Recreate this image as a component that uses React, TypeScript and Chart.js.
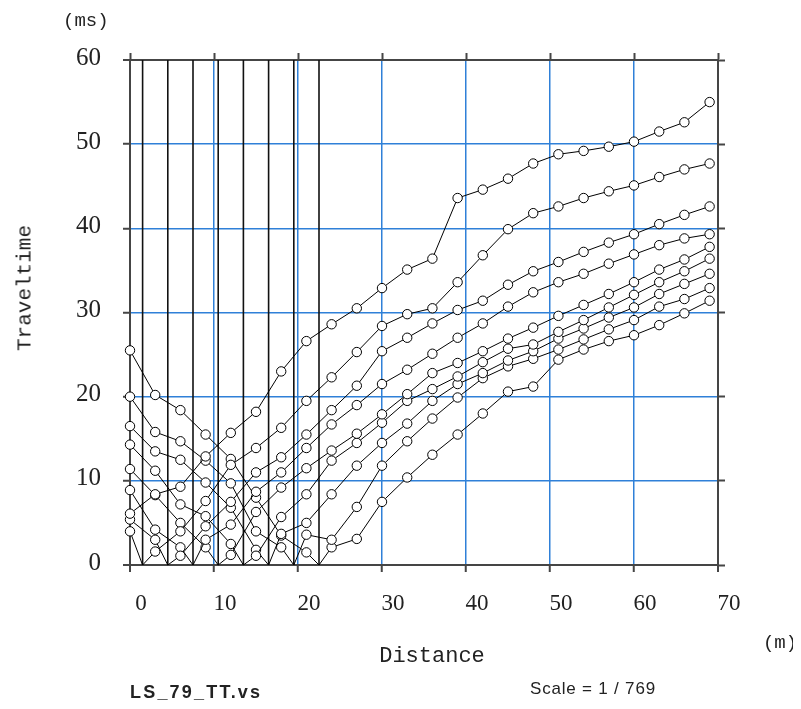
import React, { useEffect, useRef } from "react";
import { Chart, registerables } from "chart.js";

Chart.register(...registerables);

// Receiver positions (m)
const distances = [0, 3, 6, 9, 12, 15, 18, 21, 24, 27, 30, 33, 36, 39, 42, 45, 48, 51, 54, 57, 60, 63, 66, 69];

// Shot positions (m), drawn as vertical lines
const shotPositions = [1.5, 4.5, 7.5, 10.5, 13.5, 16.5, 19.5, 22.5];

// Travel times (ms) per shot record
const timesA = [6.1, 8.4, 9.3, 12.9, 15.7, 18.2, 23.0, 26.6, 28.6, 30.5, 32.9, 35.1, 36.4, 43.6, 44.6, 45.9, 47.7, 48.8, 49.2, 49.7, 50.3, 51.5, 52.6, 55.0];
const timesB = [4.0, 1.6, 4.0, 7.6, 11.9, 13.9, 16.3, 19.5, 22.3, 25.3, 28.4, 29.8, 30.5, 33.6, 36.8, 39.9, 41.8, 42.6, 43.6, 44.4, 45.1, 46.1, 47.0, 47.7];
const timesC = [5.4, 3.0, 1.1, 4.6, 7.5, 11.0, 12.8, 15.5, 18.4, 21.3, 25.4, 27.0, 28.7, 30.3, 31.4, 33.3, 34.9, 36.0, 37.2, 38.3, 39.3, 40.5, 41.6, 42.6];
const timesD = [8.9, 4.2, 2.1, 3.0, 4.8, 8.7, 11.0, 13.9, 16.7, 19.0, 21.5, 23.2, 25.1, 27.0, 28.7, 30.7, 32.4, 33.6, 34.6, 35.8, 36.9, 38.0, 38.8, 39.3];
const timesE = [11.4, 8.3, 5.0, 2.1, 1.2, 6.3, 9.2, 11.5, 13.6, 15.6, 17.9, 20.3, 22.8, 24.0, 25.4, 26.9, 28.2, 29.6, 30.9, 32.2, 33.6, 35.1, 36.3, 37.8];
const timesF = [14.3, 11.2, 7.2, 5.8, 2.5, 1.1, 5.7, 8.4, 12.4, 14.5, 16.9, 19.5, 20.9, 22.4, 24.1, 25.7, 26.2, 27.7, 29.1, 30.6, 32.1, 33.6, 34.9, 36.4];
const timesG = [16.5, 13.5, 12.5, 9.8, 6.8, 1.8, 3.7, 5.0, 8.4, 11.8, 14.5, 16.8, 19.5, 21.5, 22.8, 24.3, 25.4, 26.9, 28.1, 29.4, 30.6, 32.2, 33.4, 34.6];
const timesH = [20.0, 15.8, 14.7, 12.4, 9.7, 4.0, 2.1, 3.6, 3.0, 6.9, 11.8, 14.7, 17.4, 19.9, 22.2, 23.6, 24.5, 25.6, 26.8, 28.0, 29.1, 30.7, 31.6, 32.9];
const timesI = [25.5, 20.2, 18.4, 15.5, 12.6, 8.0, 3.5, 1.5, 2.1, 3.1, 7.5, 10.4, 13.1, 15.5, 18.0, 20.6, 21.2, 24.4, 25.6, 26.6, 27.3, 28.5, 29.9, 31.4];

const curveTimes = [timesA, timesB, timesC, timesD, timesE, timesF, timesG, timesH, timesI];
// shot position belonging to each curve (null = off-line shot, no zero point drawn)
const curveShots: (number | null)[] = [null, 1.5, 4.5, 7.5, 10.5, 13.5, 16.5, 19.5, 22.5];

const X_MIN = 0;
const X_MAX = 70;
const Y_MIN = 0;
const Y_MAX = 60;
const STEP_X = 10;
const STEP_Y = 10;

const BLUE = "#2f80d8";
const FRAME = "#454545";
const TEXT = "#222222";

type Pt = { x: number; y: number; marker: boolean };

function buildCurve(times: number[], shot: number | null): Pt[] {
  const pts: Pt[] = distances.map((x, i) => ({ x, y: times[i], marker: true }));
  if (shot !== null) {
    pts.push({ x: shot, y: 0, marker: false });
    pts.sort((a, b) => a.x - b.x);
  }
  return pts;
}

export default function App() {
  const canvasRef = useRef<HTMLCanvasElement | null>(null);

  useEffect(() => {
    const canvas = canvasRef.current;
    if (!canvas) return;

    const shotSets = shotPositions.map((s) => ({
      data: [
        { x: s, y: Y_MIN },
        { x: s, y: Y_MAX },
      ],
      showLine: true,
      borderColor: "#111111",
      borderWidth: 1.6,
      pointRadius: 0,
      order: 3,
    }));

    const curveSets = curveTimes.map((t, i) => ({
      data: buildCurve(t, curveShots[i]),
      showLine: true,
      borderColor: "#000000",
      borderWidth: 1,
      pointRadius: (c: any) => (c.raw && c.raw.marker === false ? 0 : 4.7),
      pointBorderColor: "#000000",
      pointBackgroundColor: "#ffffff",
      pointBorderWidth: 1,
      clip: false as any,
      order: 1,
    }));

    const edgeX = (v: number) => v === X_MIN || v === X_MAX;
    const edgeY = (v: number) => v === Y_MIN || v === Y_MAX;

    const chart = new Chart(canvas, {
      type: "scatter",
      data: { datasets: [...shotSets, ...curveSets] as any },
      options: {
        animation: false,
        responsive: false,
        devicePixelRatio: 1,
        layout: { padding: 0 },
        plugins: { legend: { display: false }, tooltip: { enabled: false } },
        scales: {
          x: {
            type: "linear",
            position: "bottom",
            min: X_MIN,
            max: X_MAX,
            ticks: {
              stepSize: STEP_X,
              color: TEXT,
              font: { family: "'Liberation Serif', serif", size: 23 },
              padding: 18,
              labelOffset: 11,
              maxRotation: 0,
            },
            grid: {
              color: (c: any) => (c.tick && edgeX(c.tick.value) ? FRAME : BLUE),
              lineWidth: (c: any) => (c.tick && edgeX(c.tick.value) ? 2 : 1.5),
              tickColor: FRAME,
              tickLength: 7,
              tickWidth: 2,
            },
            border: { display: true, color: FRAME, width: 2 },
            afterFit: (s: any) => {
              s.height = 136;
            },
          },
          x2: {
            type: "linear",
            position: "top",
            min: X_MIN,
            max: X_MAX,
            ticks: { stepSize: STEP_X, display: false },
            grid: {
              drawOnChartArea: false,
              color: FRAME,
              tickColor: FRAME,
              tickLength: 7,
              tickWidth: 2,
            },
            border: { display: true, color: FRAME, width: 2 },
            afterFit: (s: any) => {
              s.height = 52;
            },
          },
          y: {
            type: "linear",
            position: "left",
            min: Y_MIN,
            max: Y_MAX,
            ticks: {
              stepSize: STEP_Y,
              color: TEXT,
              font: { family: "'Liberation Serif', serif", size: 25 },
              padding: 22,
              labelOffset: -2,
            },
            grid: {
              color: (c: any) => (c.tick && edgeY(c.tick.value) ? FRAME : BLUE),
              lineWidth: (c: any) => (c.tick && edgeY(c.tick.value) ? 2 : 1.5),
              tickColor: FRAME,
              tickLength: 7,
              tickWidth: 2,
            },
            border: { display: true, color: FRAME, width: 2 },
            afterFit: (s: any) => {
              s.width = 122;
            },
          },
          y2: {
            type: "linear",
            position: "right",
            min: Y_MIN,
            max: Y_MAX,
            ticks: { stepSize: STEP_Y, display: false },
            grid: {
              drawOnChartArea: false,
              color: FRAME,
              tickColor: FRAME,
              tickLength: 7,
              tickWidth: 2,
            },
            border: { display: true, color: FRAME, width: 2 },
            afterFit: (s: any) => {
              s.width = 75;
            },
          },
        },
      },
    });

    return () => {
      chart.destroy();
    };
  }, []);

  const mono = "'Liberation Mono', 'DejaVu Sans Mono', monospace";
  const abs = (extra: React.CSSProperties): React.CSSProperties => ({
    position: "absolute",
    whiteSpace: "nowrap",
    color: TEXT,
    lineHeight: 1,
    ...extra,
  });

  return (
    <div style={{ position: "relative", width: 785, height: 693, background: "#ffffff" }}>
      <canvas ref={canvasRef} width={785} height={693} style={{ display: "block" }} />
      <div style={abs({ left: 55, top: 4, fontFamily: mono, fontSize: 19 })}>(ms)</div>
      <div
        style={abs({
          left: 17,
          top: 280,
          fontFamily: mono,
          fontSize: 21,
          transform: "translate(-50%, -50%) rotate(-90deg)",
        })}
      >
        Traveltime
      </div>
      <div style={abs({ left: 424, top: 649, fontFamily: mono, fontSize: 22, transform: "translate(-50%, -50%)" })}>
        Distance
      </div>
      <div style={abs({ left: 772, top: 635, fontFamily: mono, fontSize: 19, transform: "translate(-50%, -50%)" })}>
        (m)
      </div>
      <div
        style={abs({
          left: 122,
          top: 684,
          fontFamily: "'Liberation Sans', Arial, sans-serif",
          fontWeight: "bold",
          fontSize: 18,
          letterSpacing: 2.2,
          transform: "translateY(-50%)",
        })}
      >
        LS_79_TT.vs
      </div>
      <div
        style={abs({
          left: 522,
          top: 680,
          fontFamily: "'Liberation Sans', Arial, sans-serif",
          fontSize: 17,
          letterSpacing: 0.8,
          transform: "translateY(-50%)",
        })}
      >
        Scale = 1 / 769
      </div>
    </div>
  );
}
